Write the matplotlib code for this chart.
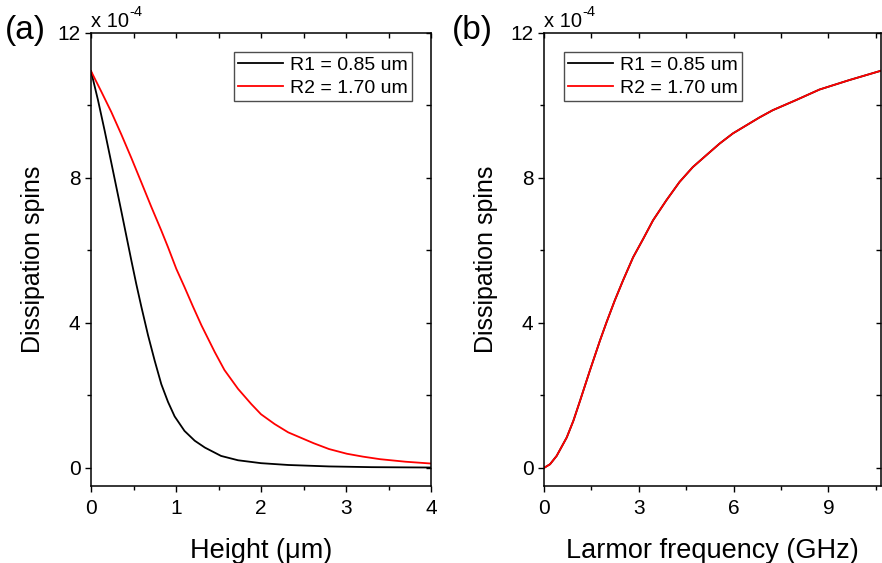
import matplotlib
matplotlib.use("Agg")
import matplotlib.pyplot as plt
from matplotlib.ticker import MultipleLocator

plt.rcParams["font.family"] = ["Liberation Sans", "DejaVu Sans"]

# (a) dissipation vs height, units of 1e-4
h_black = [0, 0.082, 0.161, 0.239, 0.298, 0.357, 0.416, 0.475, 0.533, 0.592, 0.671, 0.749,
           0.827, 0.906, 0.984, 1.10, 1.22, 1.34, 1.53, 1.73, 2.0, 2.32, 2.8, 3.3, 4.0]
d_black = [10.95, 10.15, 9.3, 8.42, 7.75, 7.08, 6.4, 5.72, 5.07, 4.45, 3.66, 2.96,
           2.31, 1.82, 1.42, 1.02, 0.75, 0.56, 0.33, 0.21, 0.13, 0.08, 0.04, 0.02, 0.01]
h_red = [0, 0.122, 0.239, 0.357, 0.475, 0.592, 0.71, 0.827, 0.906, 1.004, 1.10, 1.20, 1.30,
         1.455, 1.57, 1.73, 1.886, 2.0, 2.16, 2.32, 2.62, 2.8, 3.01, 3.2, 3.40, 3.7, 4.0]
d_red = [10.95, 10.38, 9.82, 9.2, 8.55, 7.88, 7.20, 6.55, 6.09, 5.49, 4.99, 4.45, 3.93,
         3.20, 2.70, 2.18, 1.76, 1.48, 1.21, 0.98, 0.68, 0.52, 0.39, 0.31, 0.24, 0.17, 0.12]

# (b) dissipation vs larmor frequency (both radii overlap)
f_ghz = [0, 0.19, 0.40, 0.72, 0.93, 1.14, 1.45, 1.77, 1.98, 2.24, 2.50, 2.82, 3.14, 3.45,
         3.87, 4.29, 4.71, 5.14, 5.56, 5.98, 6.82, 7.24, 7.98, 8.72, 9.66, 10.67]
d_f1 = [0, 0.10, 0.33, 0.84, 1.30, 1.85, 2.68, 3.51, 4.02, 4.62, 5.17, 5.81, 6.32, 6.83,
        7.38, 7.89, 8.30, 8.63, 8.95, 9.23, 9.67, 9.87, 10.15, 10.44, 10.70, 10.96]
d_f2 = [0, 0.10, 0.33, 0.84, 1.30, 1.85, 2.68, 3.51, 4.02, 4.62, 5.17, 5.81, 6.32, 6.83,
        7.38, 7.89, 8.30, 8.63, 8.95, 9.23, 9.67, 9.87, 10.15, 10.44, 10.70, 10.96]

labels = ["R1 = 0.85 um", "R2 = 1.70 um"]

fig = plt.figure(figsize=(8.82, 5.63), dpi=100)
ax_a = fig.add_axes([91 / 882, 77 / 563, 340 / 882, 453 / 563])
ax_b = fig.add_axes([544 / 882, 77 / 563, 336.5 / 882, 453 / 563])


def style(ax, xmajor):
    ax.set_ylim(-0.5, 12)
    ax.yaxis.set_major_locator(MultipleLocator(4))
    ax.yaxis.set_minor_locator(MultipleLocator(2))
    ax.xaxis.set_major_locator(MultipleLocator(xmajor))
    ax.xaxis.set_minor_locator(MultipleLocator(xmajor / 2))
    for s in ax.spines.values():
        s.set_linewidth(1.1)
    ax.tick_params(which="both", direction="out", width=1.0, labelsize=15,
                   top=False, right=False)
    ax.tick_params(which="major", length=4.5, pad=3)
    ax.tick_params(axis="x", which="major", pad=5)
    ax.tick_params(which="minor", length=3)
    # inward ticks on the top/right mirror axes
    sec = ax.secondary_xaxis("top")
    sec.xaxis.set_major_locator(MultipleLocator(xmajor))
    sec.xaxis.set_minor_locator(MultipleLocator(xmajor / 2))
    sec.tick_params(which="both", direction="in", length=3.5, width=1.0, labeltop=False)
    sec.spines["top"].set_visible(False)
    sec2 = ax.secondary_yaxis("right")
    sec2.yaxis.set_major_locator(MultipleLocator(4))
    sec2.yaxis.set_minor_locator(MultipleLocator(2))
    sec2.tick_params(which="both", direction="in", length=3.5, width=1.0, labelright=False)
    sec2.spines["right"].set_visible(False)
    ax.set_ylabel("Dissipation spins", fontsize=18, labelpad=9)
    t = ax.text(0, 1.004, "x 10", transform=ax.transAxes, fontsize=14.5,
                ha="left", va="bottom")
    ax.annotate("-4", xy=(1, 0.62), xycoords=t, fontsize=10.5, ha="left", va="bottom")


def legend(ax, loc, anchor):
    leg = ax.legend(loc=loc, bbox_to_anchor=anchor, fontsize=14,
                    frameon=True, fancybox=False, edgecolor="#222222",
                    handlelength=2.3, handletextpad=0.35, borderpad=0.22,
                    labelspacing=0.28, borderaxespad=0)
    leg.get_frame().set_linewidth(1.0)


ax_a.plot(h_black, d_black, color="black", lw=1.3, label=labels[0])
ax_a.plot(h_red, d_red, color="red", lw=1.3, label=labels[1])
ax_a.set_xlim(0, 4)
style(ax_a, 1)
ax_a.set_xlabel("Height (μm)", fontsize=19.5, labelpad=14)
legend(ax_a, "upper right", (0.944, 0.958))

ax_b.plot(f_ghz, d_f1, color="black", lw=1.3, label=labels[0])
ax_b.plot(f_ghz, d_f2, color="red", lw=1.3, label=labels[1])
ax_b.set_xlim(0, 10.65)
style(ax_b, 3)
ax_b.set_xlabel("Larmor frequency (GHz)", fontsize=19.5, labelpad=14)
legend(ax_b, "upper left", (0.059, 0.958))

fig.text(25 / 882, 1 - 30 / 563, "(a)", fontsize=24, ha="center", va="center")
fig.text(472 / 882, 1 - 30 / 563, "(b)", fontsize=24, ha="center", va="center")

fig.savefig("out.png", dpi=100)
